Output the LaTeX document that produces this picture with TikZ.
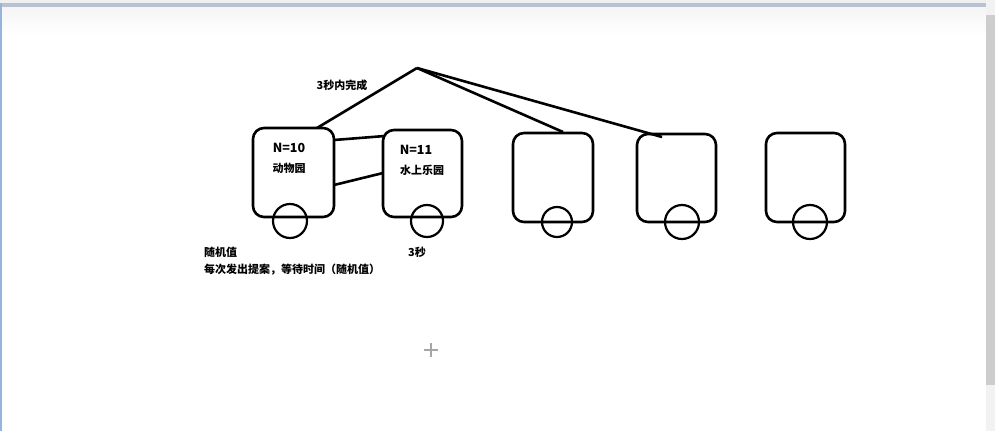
\documentclass[tikz,border=0pt]{standalone}
\usepackage{fontspec}
\newfontfamily\cjk{Noto Sans CJK SC}
\definecolor{bandc}{RGB}{184,194,210}
\definecolor{edgec}{RGB}{150,180,220}
\definecolor{barc}{RGB}{205,205,205}
\begin{document}
\begin{tikzpicture}[x=1pt,y=-1pt,
  car/.style={draw,line width=2.6pt,rounded corners=11pt},
  wheel/.style={draw,line width=2.2pt,fill=none},
  wire/.style={line width=2.6pt},
  lbl/.style={font=\cjk\bfseries\fontsize{11}{13}\selectfont,inner sep=0pt},
  num/.style={font=\cjk\bfseries\fontsize{12.5}{14}\selectfont,inner sep=0pt}]
\useasboundingbox (0,0) rectangle (995,431);
% window chrome
\fill[white] (0,0) rectangle (995,431);
\fill[gray!12] (0,0) rectangle (995,3);
\fill[bandc] (0,3) rectangle (986,7);
\shade[top color=gray!8,bottom color=white] (2,7) rectangle (986,35);
\fill[edgec] (0,3) rectangle (2,431);
\fill[gray!10] (986,0) rectangle (995,431);
\fill[barc] (986,15) rectangle (995,385);
% cars
\draw[car] (253,128) rectangle (334,217);
\draw[car] (383,130) rectangle (462,217);
\draw[car] (513,133) rectangle (593,222);
\draw[car] (637,134) rectangle (716,222);
\draw[car] (766,133) rectangle (845,222);
\draw[wheel] (290,221) circle (17);
\draw[wheel] (427,221) circle (16);
\draw[wheel] (557,222) circle (15);
\draw[wheel] (682,222) circle (17);
\draw[wheel] (810,222) circle (17);
% named points
\coordinate (apex) at (417,68);
\coordinate (c1top) at (317,128);
\coordinate (c3top) at (563,132);
\coordinate (c4top) at (662,137);
\coordinate (l1a) at (334,140);
\coordinate (l1b) at (385,136);
\coordinate (l2a) at (334,185);
\coordinate (l2b) at (383,173);
\draw[wire] (c1top) -- (apex);
\draw[wire] (apex) -- (c3top);
\draw[wire] (apex) -- (c4top);
\draw[wire] (l1a) -- (l1b);
\draw[wire] (l2a) -- (l2b);
% texts
\node[lbl] (t0) at (342,85) {3秒内完成};
\node[num] (n10) at (289,148) {N=10};
\node[lbl] (z1) at (289,168) {动物园};
\node[num] (n11) at (416,150) {N=11};
\node[lbl] (z2) at (422,170) {水上乐园};
\node[lbl,anchor=west] (r1) at (204,252) {随机值};
\node[lbl,anchor=west] (r2) at (204,270) {每次发出提案，等待时间（随机值）};
\node[lbl] (s3) at (417,252) {3秒};
% cursor
\draw[gray!70,line width=1.2pt] (431,343) -- (431,357) (424,350) -- (438,350);
\end{tikzpicture}
\end{document}
